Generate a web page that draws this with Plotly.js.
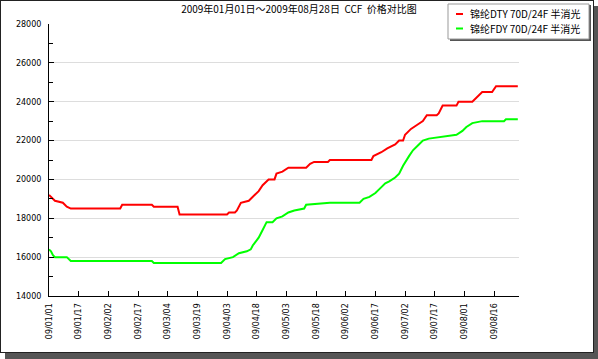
<!DOCTYPE html>
<html>
<head>
<meta charset="utf-8">
<script src="https://cdn.plot.ly/plotly-3.0.1.min.js"></script>
<style>
  html, body { margin: 0; padding: 0; background: #ffffff; }
  #frame { position: absolute; left: 0; top: 0; width: 592px; height: 351px;
           border: 1px solid #222; background: #fff; box-shadow: 5px 6px 0 #555; }
  #chart { position: absolute; left: 0; top: 0; width: 598px; height: 359px; }
</style>
</head>
<body>
<div id="frame"></div>
<div id="chart"></div>
<script>
// Tick labels (one every 15 data points)
const tickLabels = ["09/01/01","09/01/17","09/02/02","09/02/17","09/03/04","09/03/19",
  "09/04/03","09/04/18","09/05/03","09/05/18","09/06/02","09/06/17","09/07/02",
  "09/07/17","09/08/01","09/08/16"];
const tickIndex = [0,15,30,45,60,75,90,105,120,135,150,165,180,195,210,225];

// 锦纶DTY 70D/24F 半消光 : data point index and price
const dtyIndex = [0,1,3,7,9,11,36,37,52,53,65,66,90,91,94,95,97,101,103,106,108,111,114,115,118,121,130,132,134,141,142,163,164,166,168,171,173,175,177,179,180,183,186,189,191,196,197,199,206,207,214,215,217,219,224,226,237];
const dtyPrice = [19200,19100,18900,18800,18600,18500,18500,18700,18700,18600,18600,18200,18200,18300,18300,18400,18800,18900,19100,19400,19700,20000,20000,20300,20400,20600,20600,20800,20900,20900,21000,21000,21200,21300,21400,21600,21700,21800,22000,22000,22300,22600,22800,23000,23300,23300,23400,23800,23800,24000,24000,24100,24300,24500,24500,24800,24800];

// 锦纶FDY 70D/24F 半消光
const fdyIndex = [0,1,2,3,9,11,52,53,87,88,89,93,96,100,102,103,106,108,110,113,115,118,121,124,129,130,142,157,159,162,165,167,170,172,175,177,179,182,184,187,189,192,198,206,209,211,214,219,230,231,237];
const fdyPrice = [16400,16300,16100,16000,16000,15800,15800,15700,15700,15800,15900,16000,16200,16300,16400,16600,17000,17400,17800,17800,18000,18100,18300,18400,18500,18700,18800,18800,19000,19100,19300,19500,19800,19900,20100,20300,20700,21200,21500,21800,22000,22100,22200,22300,22500,22700,22900,23000,23000,23100,23100];

const seriesNames = ["锦纶DTY 70D/24F 半消光", "锦纶FDY 70D/24F 半消光"];
const seriesColors = ["#ff0000", "#00ff00"];
const titleText = "2009年01月01日～2009年08月28日  CCF  价格对比图";

const L = 49, R = 519, T = 24, B = 296;
const px = x => (x - L) / (R - L);
const py = y => (B - y) / (B - T);

const traces = [
  {x: dtyIndex, y: dtyPrice, name: seriesNames[0], mode: "lines",
   line: {color: seriesColors[0], width: 2}, hoverinfo: "skip"},
  {x: fdyIndex, y: fdyPrice, name: seriesNames[1], mode: "lines",
   line: {color: seriesColors[1], width: 2}, hoverinfo: "skip"}
];

const shapes = [
  // legend shadow + box
  {type: "rect", xref: "paper", yref: "paper", x0: px(450), x1: px(591), y0: py(41), y1: py(5),
   fillcolor: "#555", line: {width: 0}, layer: "above"},
  {type: "rect", xref: "paper", yref: "paper", x0: px(448), x1: px(589), y0: py(39), y1: py(4),
   fillcolor: "#fff", line: {color: "#999", width: 1}, layer: "above"},
  {type: "line", xref: "paper", yref: "paper", x0: px(456), x1: px(463), y0: py(14), y1: py(14),
   line: {color: seriesColors[0], width: 2}, layer: "above"},
  {type: "line", xref: "paper", yref: "paper", x0: px(456), x1: px(463), y0: py(28.5), y1: py(28.5),
   line: {color: seriesColors[1], width: 2}, layer: "above"}
];

const annotations = [
  {xref: "paper", yref: "paper", x: px(468), y: py(14), xanchor: "left", yanchor: "middle",
   text: seriesNames[0], showarrow: false, font: {family: "Noto Sans CJK SC", size: 10, color: "#000"}},
  {xref: "paper", yref: "paper", x: px(468), y: py(28.5), xanchor: "left", yanchor: "middle",
   text: seriesNames[1], showarrow: false, font: {family: "Noto Sans CJK SC", size: 10, color: "#000"}}
];

const layout = {
  width: 598, height: 359,
  margin: {l: L, r: 598 - R, t: T, b: 359 - B, pad: 0},
  paper_bgcolor: "rgba(0,0,0,0)", plot_bgcolor: "rgba(0,0,0,0)",
  showlegend: false,
  title: {text: titleText, x: 0.5, xref: "container", y: 1 - 9/359, yref: "container",
          xanchor: "center", yanchor: "middle",
          font: {family: "Noto Sans CJK SC", size: 10, color: "#000"}},
  xaxis: {range: [0, 237.6], tickmode: "array", tickvals: tickIndex, ticktext: tickLabels,
          tickangle: -90, ticks: "inside", ticklen: 5, tickcolor: "#000",
          ticklabelstandoff: 3,
          showline: true, linecolor: "#000", linewidth: 1, showgrid: false, zeroline: false,
          tickfont: {family: "DejaVu Sans", size: 8, color: "#000"}, fixedrange: true},
  yaxis: {range: [14000, 28000], dtick: 2000, tick0: 14000, tickformat: "d",
          ticks: "inside", ticklen: 5, ticklabelstandoff: 5,
          tickcolor: "#000", showline: true, linecolor: "#000", linewidth: 1,
          showgrid: true, gridcolor: "#dddddd", gridwidth: 1, zeroline: false,
          minor: {dtick: 1000, ticks: "inside", ticklen: 4, tickcolor: "#000", showgrid: false},
          tickfont: {family: "DejaVu Sans", size: 8, color: "#000"}, fixedrange: true},
  shapes: shapes,
  annotations: annotations
};

Plotly.newPlot("chart", traces, layout, {displayModeBar: false, staticPlot: true});
</script>
</body>
</html>
